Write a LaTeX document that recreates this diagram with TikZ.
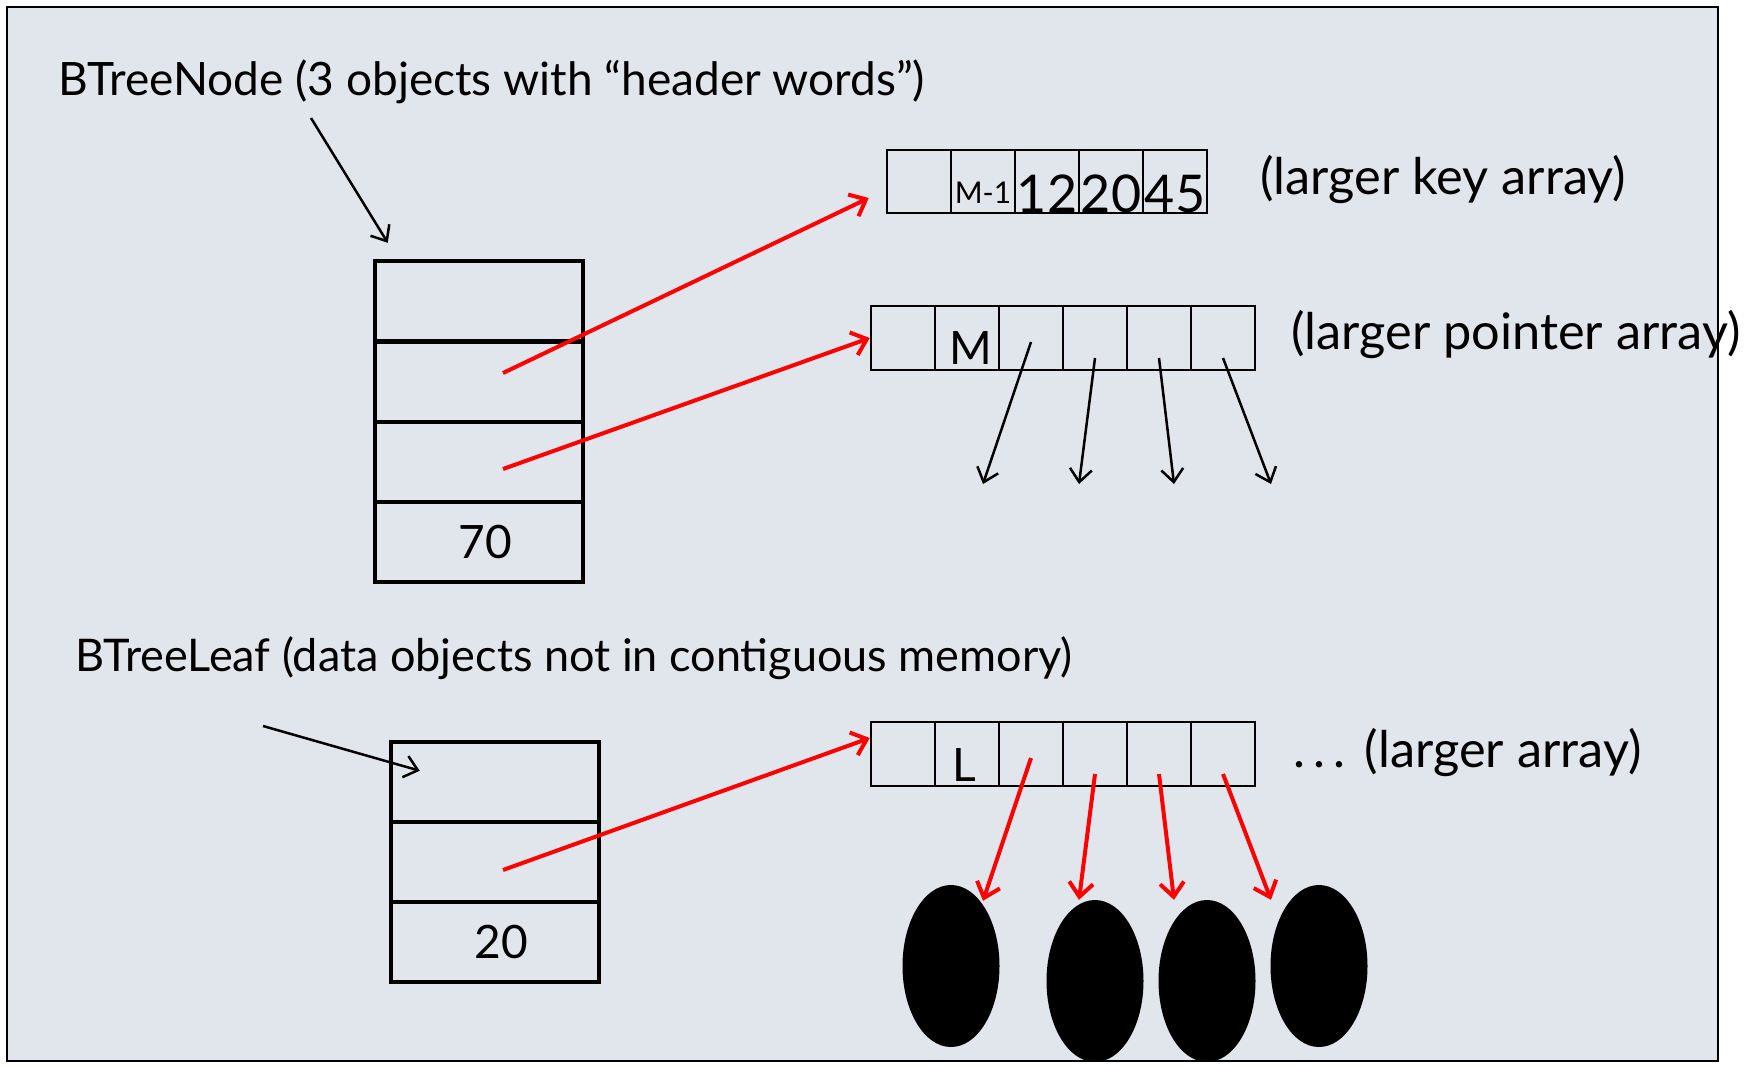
\documentclass[tikz,border=0pt]{standalone}
\usepackage{fontspec}
\setmainfont{Lato}
\usetikzlibrary{arrows.meta,shapes.geometric}
\definecolor{slide}{HTML}{E1E5EC}
\newcommand{\txt}{\fontsize{46}{55}\selectfont}
\newcommand{\lbl}{\fontsize{50.5}{60}\selectfont}
\newcommand{\num}{\fontsize{52}{60}\selectfont}
\newcommand{\sml}{\fontsize{30}{36}\selectfont}
\tikzset{
  note/.style={font=\txt, inner sep=0pt, anchor=base west},
  slot/.style={draw, line width=4.5pt, minimum width=208pt, minimum height=80pt, inner sep=0pt, font=\txt},
  cell/.style={draw, line width=2.5pt, minimum width=64pt, minimum height=64pt, inner sep=0pt},
  ref/.style={-{Straight Barb[length=13pt,width=22pt]}, line width=2.5pt},
  redref/.style={-{Straight Barb[length=14pt,width=24pt]}, red, line width=4pt},
  blob/.style={ellipse, fill=black, minimum width=97pt, minimum height=162pt, inner sep=0pt}
}
\begin{document}
\begin{tikzpicture}[x=1pt, y=-1pt]
  \useasboundingbox (0,0) rectangle (1748,1066);
  \draw[fill=slide, line width=2pt] (7,7) rectangle (1718,1061);

  %% inner node: three header words + count
  \node[note] (t1) at (58,95) {BTreeNode (3 objects with “header words”)};
  \node[slot] (n1) at (479,301) {};
  \node[slot] (n2) at (479,382) {};
  \node[slot] (n3) at (479,462) {};
  \node[slot] (n4) at (479,542) {\hspace{12pt}70};

  \coordinate (a1) at (311,118);
  \draw[ref] (a1) -- ([shift={(15,-16)}]n1.north west);

  %% key array
  \foreach \i in {0,...,4}
    \node[cell, minimum height=63pt] (k\i) at (919+64*\i, 181.5) {};
  \node[font=\sml, anchor=base] at ([yshift=11pt]k1.south) {M-1};
  \foreach \i/\t in {2/12,3/20,4/45}
    \node[font=\num, anchor=base, inner sep=0pt] at ([yshift=2pt]k\i.south) {\t};
  \node[note, font=\lbl] at (1260,194) {(larger key array)};

  %% pointer array
  \foreach \i in {0,...,5}
    \node[cell] (p\i) at (903+64*\i, 338) {};
  \node[font=\txt, anchor=base, inner sep=0pt] at ([shift={(4,-7)}]p1.south) {M};
  \node[note, font=\lbl] at (1291,349) {(larger pointer array)};

  \draw[redref] ([shift={(24,-9)}]n2.center) -- ([xshift=-17pt,yshift=-16.5pt]k0.west); %% n2 -> keys
  \draw[redref] ([shift={(24,7)}]n3.center) -- (p0.west); %% n3 -> pointers

  \foreach \i/\dy/\x in {2/-4pt/983, 3/-20pt/1079, 4/-20pt/1174, 5/-20pt/1271} {
    \coordinate (d\i) at (\x,484);
    \draw[ref] ([yshift=\dy]p\i.center) -- (d\i);
  }

  %% leaf node
  \node[note, font=\fontsize{45}{54}\selectfont] (t2) at (75,671) {BTreeLeaf (data objects not in contiguous memory)};
  \node[slot] (m1) at (495,782) {};
  \node[slot] (m2) at (495,862) {};
  \node[slot] (m3) at (495,942) {\hspace{12pt}20};

  \coordinate (a2) at (263,726);
  \draw[ref] (a2) -- ([shift={(31,31)}]m1.north west);

  %% leaf array and its data objects
  \foreach \i in {0,...,5}
    \node[cell] (l\i) at (903+64*\i, 754) {};
  \node[font=\txt, anchor=base, inner sep=0pt] at ([shift={(-3,-6)}]l1.south) {L};
  \node[note, font=\lbl] at (1293,767) {.\kern8pt.\kern8pt.\kern20pt(larger array)};

  \draw[redref] ([shift={(8,8)}]m2.center) -- ([yshift=16pt]l0.west); %% m2 -> leaf array

  \node[blob] (o1) at (951,966) {};
  \node[blob] (o2) at (1095,981) {};
  \node[blob] (o3) at (1207,981) {};
  \node[blob] (o4) at (1319,966) {};

  \foreach \i/\dy/\o/\s in {2/-4pt/1/{(32,16)}, 3/-20pt/2/{(-16,0)}, 4/-20pt/3/{(-33,0)}, 5/-20pt/4/{(-48,15)}}
    \draw[redref] ([yshift=\dy]l\i.center) -- ([shift=\s]o\o.north);

\end{tikzpicture}
\end{document}
